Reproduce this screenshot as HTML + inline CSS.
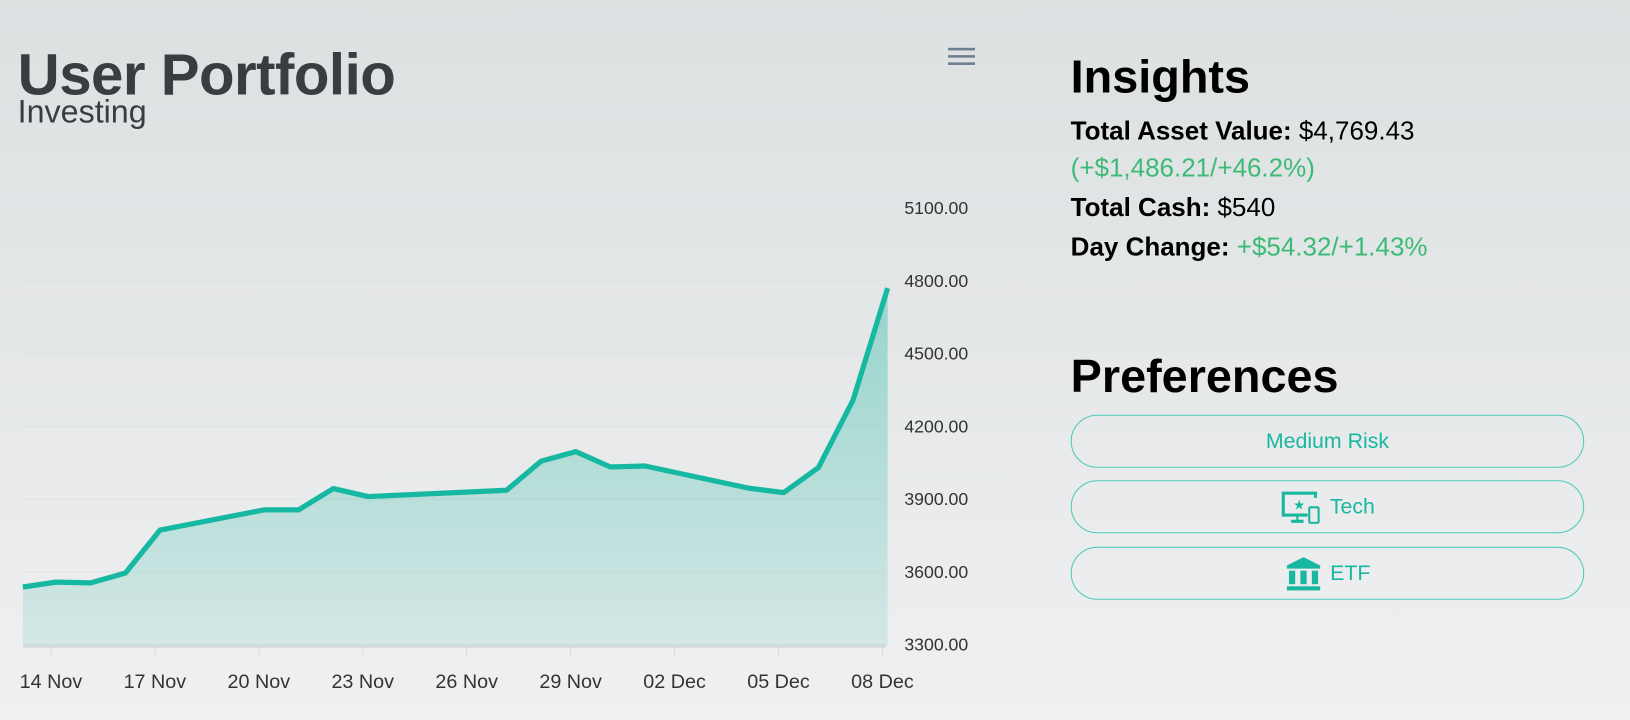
<!DOCTYPE html>
<html><head><meta charset="utf-8">
<style>
html,body{margin:0;padding:0}
body{width:1630px;height:720px;overflow:hidden;background:linear-gradient(#dce0e1,#eff0f1);font-family:"Liberation Sans",sans-serif;position:relative}
#root{position:absolute;left:0;top:0;width:1568px;height:693px;transform-origin:0 0;transform:scale(1.0395)}
.abs{position:absolute}
h1,h2{margin:0}
.btn{position:absolute;left:1030px;width:494px;height:51px;border:1px solid #4ccbb8;border-radius:26px;color:#1ab7a0;font-size:20.5px;display:flex;align-items:center;justify-content:center;gap:8px;box-sizing:border-box}
.line{position:absolute;left:1030px;font-size:25px;color:#000;white-space:nowrap}
.g{color:#3dbb76}
</style></head><body>
<div id="root">
<div class="abs" style="left:17px;top:39px;font-size:56px;font-weight:bold;color:#383d3f;letter-spacing:-0.5px;white-space:nowrap">User Portfolio</div>
<div class="abs" style="left:17px;top:90px;font-size:31px;color:#383d3f">Investing</div>
<svg class="abs" style="left:912px;top:45px" width="26" height="18"><rect y="1" width="26" height="2.5" fill="#6e7f92"/><rect y="8" width="26" height="2.5" fill="#6e7f92"/><rect y="15" width="26" height="2.5" fill="#6e7f92"/></svg>
<svg id="chart" class="abs" style="left:0;top:0" width="960" height="693">
<defs><linearGradient id="fill" x1="0" y1="0" x2="0" y2="1"><stop offset="0" stop-color="#1ab7a0" stop-opacity="0.38"/><stop offset="1" stop-color="#1ab7a0" stop-opacity="0.12"/></linearGradient></defs>
</svg>
<h1 class="abs" style="left:1030px;top:51px;font-size:45px;color:#000;line-height:1">Insights</h1>
<div class="line" style="top:112px"><b>Total Asset Value:</b> $4,769.43</div>
<div class="line g" style="top:148px">(+$1,486.21/+46.2%)</div>
<div class="line" style="top:186px"><b>Total Cash:</b> $540</div>
<div class="line" style="top:224px"><b>Day Change:</b> <span class="g">+$54.32/+1.43%</span></div>
<h2 class="abs" style="left:1030px;top:339px;font-size:45px;color:#000;line-height:1">Preferences</h2>
<div class="btn" style="top:399px">Medium Risk</div>
<div class="btn" style="top:462px"><svg width="40" height="34" viewBox="0 0 40 34"><path d="M2 2h34v6h-3V5H5v18h22v3h-9v3h5v3H11v-3h5v-3H2z" fill="#1ab7a0"/><text x="13" y="19" font-size="13" fill="#1ab7a0">★</text><rect x="28.5" y="17" width="9" height="15" rx="1" fill="none" stroke="#1ab7a0" stroke-width="2"/></svg>Tech</div>
<div class="btn" style="top:526px"><svg width="36" height="34" viewBox="0 0 36 34"><path d="M18 1L2 9v3h32V9z" fill="#1ab7a0"/><rect x="4" y="14" width="6" height="13" fill="#1ab7a0"/><rect x="15" y="14" width="6" height="13" fill="#1ab7a0"/><rect x="26" y="14" width="6" height="13" fill="#1ab7a0"/><rect x="2" y="29" width="32" height="4" fill="#1ab7a0"/></svg>ETF</div>
</div>
<script>
const dayIndex=[-1,0,1,2,3,6,7,8,9,13,14,15,16,17,20,21,22,23,24];
const values=[3537,3557,3554,3595,3772,3855,3855,3943,3910,3936,4056,4095,4032,4036,3944,3926,4029,4307,4769];
const yTicks=[3300,3600,3900,4200,4500,4800,5100];
const xTickDays=[0,3,6,9,12,15,18,21,24];
const xTickLabels=["14 Nov","17 Nov","20 Nov","23 Nov","26 Nov","29 Nov","02 Dec","05 Dec","08 Dec"];
const NS="http://www.w3.org/2000/svg";
const svg=document.getElementById('chart');
const X=d=>49+(d+0.15)*33.33;
const Y=v=>620-(v-3300)*70/300;
function mk(t,a){const e=document.createElementNS(NS,t);for(const k in a)e.setAttribute(k,a[k]);svg.appendChild(e);return e;}
yTicks.forEach(v=>{
  const g=mk('line',{x1:22,x2:852,y1:Y(v),y2:Y(v),stroke:'#dfe2e3','stroke-width':1});
  
  
  const t=mk('text',{x:870,y:Y(v)+6,'font-size':17,fill:'#333','font-family':'Liberation Sans'});
  t.textContent=v.toFixed(2);
  
  
});
const ax=mk('line',{x1:22,x2:852,y1:622,y2:622,stroke:'#d4d7d8','stroke-width':2});


xTickDays.forEach((d,i)=>{
  const tx=49+d*33.33;
  const tk=mk('line',{x1:tx,x2:tx,y1:622,y2:630,stroke:'#d4d7d8','stroke-width':1});
  
  
  const t=mk('text',{x:tx,y:662,'font-size':19,fill:'#333','text-anchor':'middle','font-family':'Liberation Sans'});
  t.textContent=xTickLabels[i];
  
  
});
const pts=dayIndex.map((d,i)=>[Math.max(22,X(d)),Y(values[i])]);
const lineD='M'+pts.map(p=>p[0].toFixed(1)+','+p[1].toFixed(1)).join('L');
const area=mk('path',{d:lineD+'L'+pts[pts.length-1][0].toFixed(1)+',621L'+pts[0][0].toFixed(1)+',621Z',fill:'url(#fill)'});


const ln=mk('path',{d:lineD,fill:'none',stroke:'#16b8a1','stroke-width':5,'stroke-linejoin':'round'});


</script>
</body></html>
